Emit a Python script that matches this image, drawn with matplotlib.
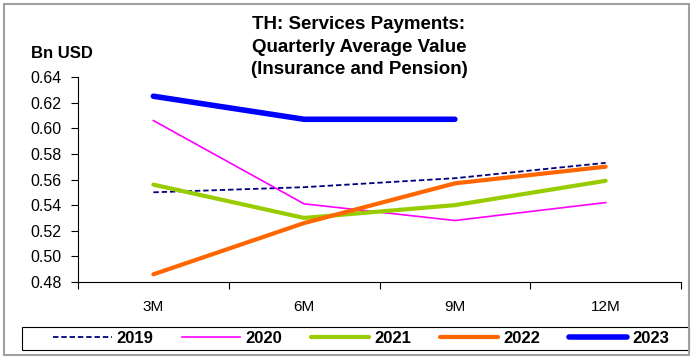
import matplotlib.pyplot as plt
from matplotlib.patches import Rectangle

plt.rcParams['font.family'] = ['Liberation Sans', 'DejaVu Sans']

periodos = ['3M', '6M', '9M', '12M']
v2019 = [0.550, 0.554, 0.561, 0.573]
v2020 = [0.606, 0.541, 0.528, 0.542]
v2021 = [0.556, 0.530, 0.540, 0.559]
v2022 = [0.486, 0.526, 0.557, 0.570]
v2023 = [0.625, 0.607, 0.607]

fig = plt.figure(figsize=(6.93, 3.59), dpi=100)
ax = fig.add_axes([78/693, 1 - 282/359, 603/693, 205/359])

x = list(range(len(periodos)))
ax.plot(x, v2019, color='#000080', lw=1.3, ls=(0, (3, 1.6)), label='2019')
ax.plot(x, v2020, color='#ff00ff', lw=1.2, label='2020')
ax.plot(x, v2021, color='#99cc00', lw=3, solid_capstyle='round', label='2021')
ax.plot(x, v2022, color='#ff6600', lw=3, solid_capstyle='round', label='2022')
ax.plot(x[:len(v2023)], v2023, color='#0000ff', lw=4, solid_capstyle='round', label='2023')

ax.set_xlim(-0.5, 3.5)
ax.set_ylim(0.48, 0.64)
ax.set_yticks([0.48 + 0.02*i for i in range(9)])
ax.set_yticklabels(['%.2f' % (0.48 + 0.02*i) for i in range(9)], fontsize=11.5)
ax.set_xticks([-0.5, 0.5, 1.5, 2.5, 3.5])
ax.set_xticklabels([])
ax.set_xticks(x, minor=True)
ax.set_xticklabels(periodos, minor=True, fontsize=11)
ax.tick_params(axis='x', which='minor', length=0, pad=13)
ax.tick_params(axis='both', which='major', length=5, width=0.8, direction='out')
ax.tick_params(axis='y', pad=7)
ax.spines['top'].set_visible(False)
ax.spines['right'].set_visible(False)
for s in ['left', 'bottom']:
    ax.spines[s].set_linewidth(0.8)

fig.text(359/693, 1 - 47/359, 'TH: Services Payments:\nQuarterly Average Value\n(Insurance and Pension)',
         ha='center', va='center', fontsize=13.5, fontweight='bold', linespacing=1.4)
fig.text(31/693, 1 - 53/359, 'Bn USD', ha='left', va='center', fontsize=12, fontweight='bold')

leg = fig.legend(loc='center', bbox_to_anchor=(361/693, 1 - 338.5/359), ncol=5, frameon=False,
                 prop={'weight': 'bold', 'size': 12}, handlelength=3.5, columnspacing=1.72,
                 borderpad=0.25, handletextpad=0.3, borderaxespad=0)

# legend box and outer frame
fig.patches.append(Rectangle((22/693, 1 - 350/359), 667/693, 23/359, transform=fig.transFigure,
                             fill=False, edgecolor='black', lw=0.8))
fig.patches.append(Rectangle((4/693, 4/359), 685/693, 351/359, transform=fig.transFigure,
                             fill=False, edgecolor='#a0a0a0', lw=1.5))

plt.savefig('out.png')
